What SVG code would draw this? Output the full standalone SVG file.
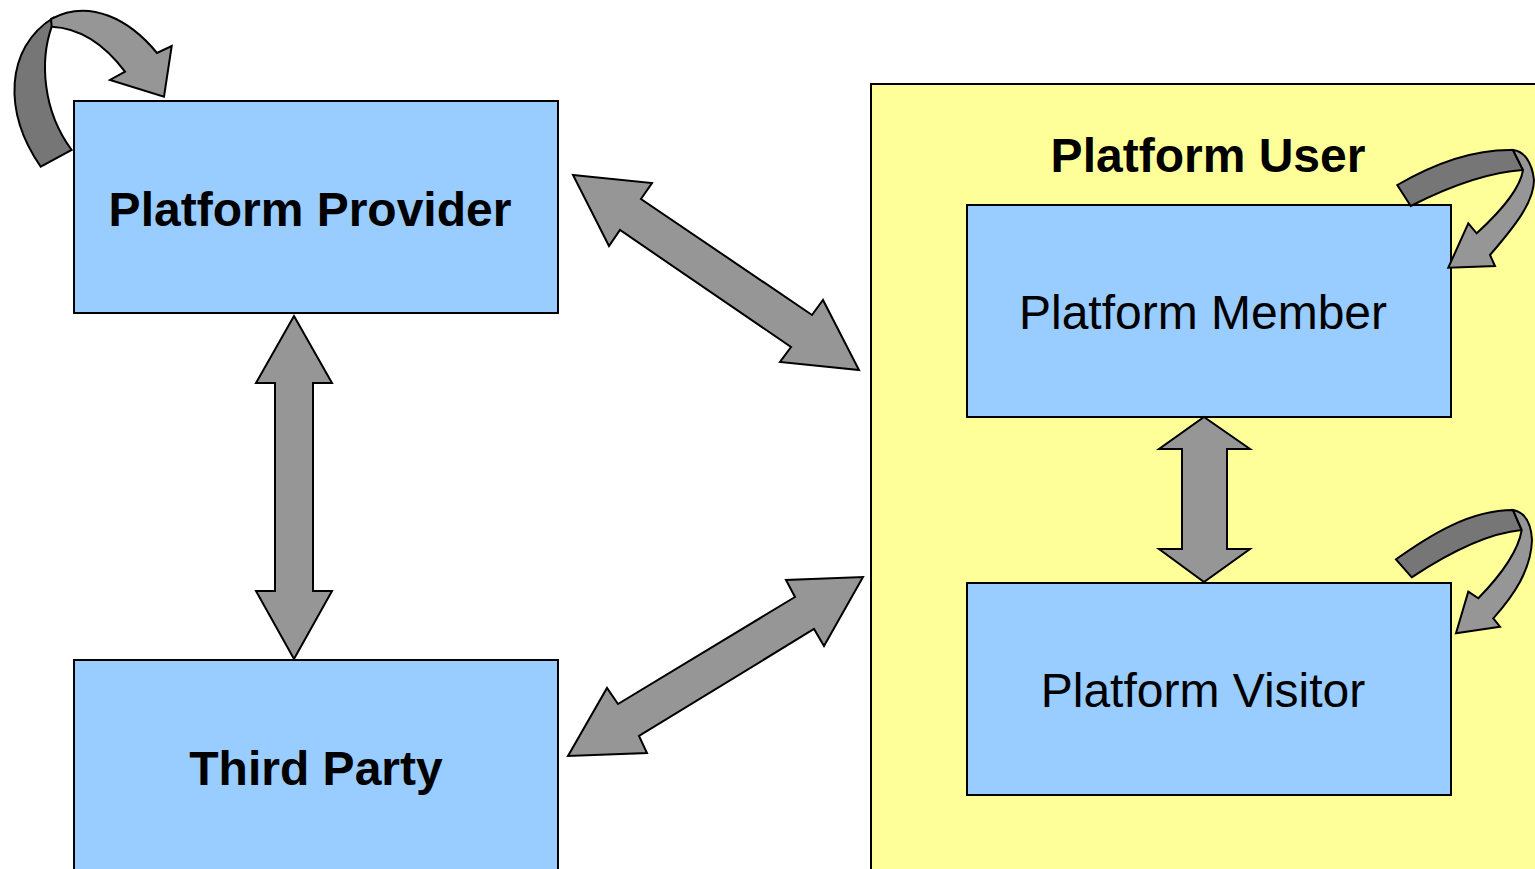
<svg xmlns="http://www.w3.org/2000/svg" width="1535" height="869" viewBox="0 0 1535 869">
<style>
.box{fill:#99CCFF;stroke:#000;stroke-width:2}
.grp{fill:#FFFF99;stroke:#000;stroke-width:2}
.arr{fill:#969696;stroke:#000;stroke-width:2;stroke-linejoin:miter}
.dark{fill:#767676;stroke:#000;stroke-width:2}
.lb{font-family:"Liberation Sans",Arial,sans-serif;font-size:48px;text-anchor:middle;fill:#000}
.b{font-weight:bold}
</style>
<rect width="1535" height="869" fill="#fff"/>
<g id="platform-user">
<rect class="grp" x="871" y="84" width="680" height="800"/>
<text class="lb b" x="1208" y="172">Platform User</text>
</g>
<g id="platform-provider">
<rect class="box" x="74" y="101" width="484" height="212"/>
<text class="lb b" x="310" y="226">Platform Provider</text>
</g>
<g id="third-party">
<rect class="box" x="74" y="660" width="484" height="230"/>
<text class="lb b" x="316" y="785">Third Party</text>
</g>
<g id="platform-member">
<rect class="box" x="967" y="205" width="484" height="212"/>
<text class="lb" x="1203" y="329">Platform Member</text>
</g>
<g id="platform-visitor">
<rect class="box" x="967" y="583" width="484" height="212"/>
<text class="lb" x="1203" y="707">Platform Visitor</text>
</g>
<g id="connectors">
<polygon class="arr" points="573,175 652,183 641,199 812,315 823,300 859,370 780,362 791,347 620,230 609,246"/>
<polygon class="arr" points="863,577 824,646 814,629 639,736 647,753 568,756 607,688 618,704 795,597 786,580"/>
<polygon class="arr" points="294,316 332,383 313,383 313,591 332,591 294,659 256,591 275,591 275,383 256,383"/>
<polygon class="arr" points="1204,417 1250,449 1227,449 1227,549 1250,549 1204,582 1159,549 1182,549 1182,449 1159,449"/>
<path class="dark" d="M40.7,166.7 C3,112 5,48 53,18 L51.7,26.7 C40,60 42,110 71.7,150 Z"/>
<path class="arr" d="M51,19 C90,-2 130,20 157,53 L171.7,46 L164,96.7 L110,80 L125,71.7 C105,45 80,28 51.7,26.7 Z"/>
<path class="dark" d="M1397.3,185 C1430,166 1470,149 1513,150 L1523,170 C1490,172 1450,186 1410.7,206 Z"/>
<path class="arr" d="M1513,150 C1524,151 1532,162 1534,180 C1534,202 1515,226 1490,255 L1495,266 L1448.3,267.7 L1468.3,223.3 L1476.7,233.3 C1500,212 1520,190 1523,170 Z"/>
<path class="dark" d="M1396,559.3 C1430,535 1470,510 1513,510 L1521.7,530 C1490,533 1450,552 1411.7,577.3 Z"/>
<path class="arr" d="M1513,510 C1524,512 1531,522 1532,540 C1531,570 1514,595 1493.3,618.3 L1500,626.7 L1456,633.3 L1468.3,591.7 L1478.3,598.3 C1500,576 1518,553 1521.7,530 Z"/>
</g>
</svg>
